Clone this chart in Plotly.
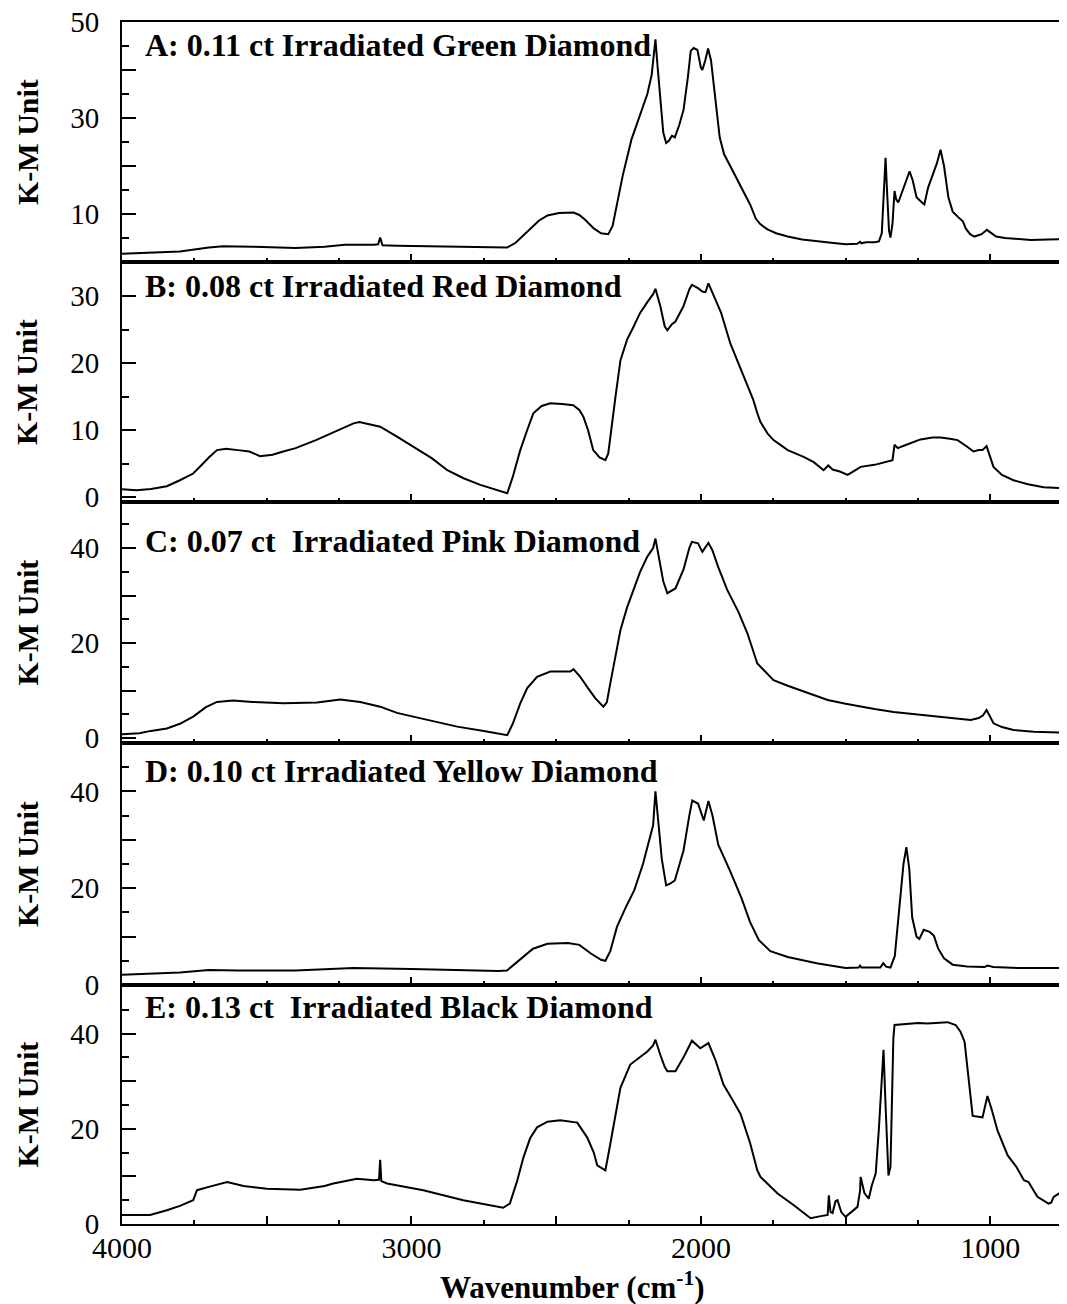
import plotly.graph_objects as go

# ---------------- data ----------------
wn_A = [4000, 3900, 3800, 3700, 3650, 3550, 3400, 3300, 3230, 3130, 3115, 3108, 3100, 3050, 2900, 2760, 2670,
        2640, 2600, 2560, 2530, 2490, 2440, 2420, 2400, 2370, 2345, 2320, 2305, 2290, 2270, 2240, 2210, 2185,
        2170, 2162, 2157, 2150, 2140, 2130, 2120, 2110, 2100, 2090, 2075, 2060, 2045, 2035, 2025, 2012, 2000,
        1995, 1985, 1975, 1965, 1950, 1935, 1920, 1890, 1860, 1830, 1810, 1795, 1770, 1740, 1700, 1650, 1550,
        1500, 1460, 1450, 1445, 1430, 1400, 1385, 1375, 1368, 1362, 1357, 1350, 1345, 1338, 1331, 1325, 1318,
        1305, 1290, 1279, 1268, 1255, 1240, 1228, 1215, 1200, 1185, 1172, 1160, 1145, 1130, 1110, 1095, 1085,
        1070, 1055, 1030, 1012, 1000, 980, 950, 900, 860, 800, 742]
km_A = [1.7, 1.9, 2.2, 3.0, 3.3, 3.2, 2.9, 3.2, 3.6, 3.6, 3.7, 5.1, 3.5, 3.4, 3.2, 3.0, 3.0,
        4.0, 6.3, 8.6, 9.7, 10.2, 10.3, 9.8, 8.8, 7.0, 6.0, 5.8, 7.5, 12.0, 18.0, 25.5, 30.5, 35.0,
        39.0, 43.0, 46.4, 41.0, 33.0, 27.0, 24.8, 25.3, 26.3, 26.0, 28.5, 31.7, 38.5, 44.0, 44.6, 44.2, 40.5,
        40.0, 42.0, 44.5, 42.0, 34.0, 26.0, 22.5, 19.0, 15.8, 12.0, 9.0, 7.9, 6.8, 6.0, 5.3, 4.7, 4.0,
        3.7, 3.8, 4.2, 3.9, 4.1, 4.1, 4.3, 6.0, 15.0, 21.7, 15.0, 6.5, 5.1, 8.0, 14.8, 13.0, 12.4,
        14.5, 17.0, 18.9, 17.0, 13.5, 12.6, 12.0, 15.5, 18.0, 20.5, 23.4, 20.0, 13.5, 10.5, 9.3, 8.5, 7.0,
        5.8, 5.3, 5.8, 6.7, 6.2, 5.3, 5.0, 4.7, 4.6, 4.7, 4.8]

wn_B = [4000, 3950, 3900, 3845, 3800, 3754, 3720, 3700, 3672, 3640, 3600, 3560, 3523, 3480, 3443, 3400, 3330,
        3260, 3200, 3180, 3130, 3108, 3050, 2994, 2930, 2876, 2820, 2762, 2700, 2669, 2650, 2624, 2600, 2579,
        2550, 2520, 2480, 2441, 2420, 2406, 2390, 2372, 2350, 2330, 2320, 2313, 2295, 2278, 2255, 2233, 2210,
        2185, 2165, 2157, 2140, 2125, 2116, 2100, 2088, 2060, 2040, 2031, 2010, 1995, 1984, 1974, 1960, 1930,
        1898, 1860, 1830, 1819, 1805, 1794, 1770, 1749, 1700, 1645, 1610, 1576, 1560, 1545, 1520, 1493, 1470,
        1448, 1400, 1355, 1338, 1331, 1320, 1290, 1241, 1200, 1172, 1140, 1113, 1080, 1058, 1040, 1027, 1013,
        1000, 989, 960, 920, 870, 816, 742]
km_B = [1.15, 1.0, 1.2, 1.6, 2.5, 3.5, 5.0, 5.9, 7.0, 7.2, 7.0, 6.8, 6.1, 6.3, 6.8, 7.3, 8.5,
        9.8, 11.0, 11.2, 10.7, 10.5, 9.0, 7.5, 5.8, 4.0, 2.8, 1.8, 1.0, 0.55, 3.0, 7.0, 10.0, 12.5,
        13.6, 14.0, 13.9, 13.7, 13.0, 12.0, 10.0, 7.0, 5.9, 5.5, 6.5, 9.0, 15.0, 20.4, 23.5, 25.4, 27.5,
        29.1, 30.3, 31.1, 28.5, 25.5, 24.9, 25.8, 26.2, 28.5, 31.0, 31.7, 31.2, 30.7, 30.6, 31.9, 30.5, 27.5,
        22.9, 19.0, 15.8, 14.5, 12.5, 11.2, 9.5, 8.5, 7.0, 6.0, 5.2, 4.0, 4.7, 4.1, 3.8, 3.3, 3.9,
        4.5, 4.8, 5.3, 5.5, 7.8, 7.3, 7.8, 8.6, 8.9, 8.9, 8.7, 8.5, 7.5, 6.8, 7.0, 7.0, 7.6,
        6.0, 4.5, 3.3, 2.5, 1.9, 1.45, 1.3]

wn_C = [4000, 3940, 3900, 3845, 3800, 3754, 3710, 3672, 3616, 3550, 3443, 3326, 3246, 3177, 3108, 3050, 2994,
        2900, 2842, 2750, 2669, 2650, 2624, 2600, 2566, 2520, 2451, 2440, 2430, 2417, 2390, 2365, 2337, 2325,
        2313, 2295, 2278, 2255, 2233, 2210, 2185, 2165, 2157, 2145, 2130, 2116, 2100, 2088, 2060, 2040, 2031,
        2010, 1995, 1974, 1960, 1940, 1909, 1870, 1839, 1820, 1805, 1794, 1770, 1749, 1700, 1645, 1600, 1562,
        1500, 1448, 1400, 1334, 1270, 1218, 1150, 1068, 1040, 1025, 1013, 1000, 989, 960, 920, 850, 757, 742]
km_C = [0.8, 1.0, 1.5, 2.0, 3.0, 4.5, 6.5, 7.6, 7.9, 7.6, 7.3, 7.5, 8.1, 7.6, 6.6, 5.3, 4.5,
        3.2, 2.4, 1.5, 0.6, 3.0, 7.3, 10.5, 12.9, 14.0, 14.0, 14.5, 13.8, 12.9, 10.5, 8.4, 6.6, 7.5,
        11.5, 17.0, 22.7, 27.5, 31.2, 35.0, 38.2, 40.0, 42.0, 38.0, 33.0, 30.5, 31.0, 31.5, 35.5, 40.0, 41.3,
        41.0, 39.2, 41.1, 39.5, 36.0, 31.2, 26.5, 22.0, 18.5, 15.7, 15.0, 13.5, 12.2, 11.0, 9.8, 8.8, 8.0,
        7.2, 6.6, 6.1, 5.5, 5.1, 4.8, 4.4, 3.8, 4.2, 4.8, 5.9, 4.5, 3.1, 2.3, 1.7, 1.3, 1.1, 1.1]

wn_D = [4000, 3900, 3800, 3700, 3600, 3400, 3200, 3000, 2800, 2700, 2670, 2630, 2580, 2530, 2460, 2420, 2380,
        2345, 2330, 2313, 2290, 2260, 2230, 2200, 2175, 2165, 2157, 2150, 2135, 2120, 2105, 2090, 2075, 2060,
        2040, 2030, 2010, 2000, 1990, 1974, 1960, 1940, 1900, 1860, 1830, 1800, 1760, 1700, 1600, 1500, 1455,
        1450, 1445, 1380, 1370, 1360, 1345, 1330, 1315, 1300, 1290, 1280, 1270, 1255, 1245, 1230, 1210, 1195,
        1180, 1160, 1130, 1080, 1020, 1010, 990, 900, 742]
km_D = [2.1, 2.3, 2.6, 3.1, 3.0, 3.0, 3.5, 3.3, 3.0, 2.9, 3.0, 5.0, 7.5, 8.5, 8.7, 8.3, 6.5,
        5.2, 5.0, 7.0, 12.0, 16.0, 19.6, 25.0, 30.7, 33.0, 40.0, 36.0, 26.0, 20.6, 21.0, 21.6, 24.5, 27.8,
        35.0, 38.1, 37.5, 35.7, 34.0, 38.0, 35.0, 29.0, 23.7, 18.0, 13.0, 9.3, 7.0, 5.8, 4.5, 3.5, 3.6,
        4.0, 3.6, 3.6, 4.5, 3.8, 3.6, 6.0, 15.0, 25.0, 28.5, 24.0, 14.0, 10.0, 9.5, 11.4, 11.0, 10.2,
        7.5, 5.5, 4.2, 3.8, 3.7, 4.0, 3.7, 3.5, 3.5]

wn_E = [4000, 3903, 3845, 3800, 3754, 3741, 3700, 3637, 3580, 3499, 3384, 3300, 3270, 3188, 3130, 3112, 3108,
        3104, 3084, 2959, 2821, 2683, 2660, 2635, 2613, 2590, 2566, 2530, 2486, 2427, 2393, 2370, 2358, 2330,
        2313, 2295, 2278, 2244, 2185, 2165, 2157, 2140, 2125, 2116, 2088, 2060, 2031, 2002, 1974, 1950, 1922,
        1890, 1863, 1830, 1805, 1794, 1760, 1735, 1680, 1621, 1590, 1562, 1558, 1552, 1545, 1535, 1528, 1515,
        1500, 1459, 1450, 1448, 1435, 1420, 1410, 1396, 1385, 1375, 1369, 1362, 1352, 1345, 1340, 1335, 1331,
        1300, 1250, 1218, 1180, 1148, 1120, 1103, 1089, 1075, 1061, 1027, 1010, 995, 975, 940, 910, 884,
        868, 850, 837, 799, 790, 781, 760, 742]
km_E = [1.9, 1.9, 2.9, 3.8, 5.0, 7.1, 7.8, 8.8, 8.0, 7.4, 7.2, 8.0, 8.5, 9.5, 9.2, 9.3, 13.5,
        9.0, 8.5, 7.1, 5.0, 3.4, 4.3, 9.0, 14.0, 18.0, 20.3, 21.5, 21.8, 21.3, 18.2, 15.0, 12.3, 11.25,
        16.8, 23.0, 28.6, 33.5, 36.25, 37.5, 38.7, 35.5, 33.0, 32.1, 32.1, 35.0, 38.5, 36.9, 38.0, 34.5, 29.3,
        26.0, 23.1, 17.0, 11.25, 9.9, 8.0, 6.4, 4.0, 1.2, 1.6, 1.9, 6.0, 2.5, 2.3, 4.8, 5.0, 2.5,
        1.5, 3.6, 7.0, 9.9, 6.5, 5.3, 8.0, 10.6, 20.0, 32.0, 36.6, 25.0, 10.2, 12.0, 25.0, 39.0, 41.8,
        42.0, 42.2, 42.1, 42.3, 42.4, 41.8, 40.4, 38.3, 30.0, 22.7, 22.4, 26.9, 24.0, 19.6, 14.4, 12.0, 9.2,
        8.8, 7.0, 5.7, 4.3, 4.5, 5.7, 6.5, 6.7]

panel_titles = ["A: 0.11 ct Irradiated Green Diamond",
                "B: 0.08 ct Irradiated Red Diamond",
                "C: 0.07 ct  Irradiated Pink Diamond",
                "D: 0.10 ct Irradiated Yellow Diamond",
                "E: 0.13 ct  Irradiated Black Diamond"]
y_title = "K-M Unit"
x_title = "Wavenumber (cm<sup>-1</sup>)"

x_tickvals = [4000, 3500, 3000, 2500, 2000, 1500, 1000]
x_ticktext = ["4000", "", "3000", "", "2000", "", "1000"]

y_tickvals = [[10, 20, 30, 40, 50], [0, 10, 20, 30], [0, 10, 20, 30, 40], [0, 10, 20, 30, 40], [0, 10, 20, 30, 40]]
y_ticktext = [["10", "", "30", "", "50"], ["0", "10", "20", "30"], ["0", "", "20", "", "40"],
              ["0", "", "20", "", "40"], ["0", "", "20", "", "40"]]
y_ranges = [[0, 50.02], [-0.75, 35.1], [-1.05, 49.7], [0, 50], [0, 50.2]]

# ---------------- layout geometry (page pixels; the page body adds an 8px offset) ----------------
OFF = 8
W, H = 1067 - OFF, 1304 - OFF
PL, PR, PT, PB = 122, 1065, 22, 1224          # plot area in page pixels
ml, mt = PL - OFF, PT - OFF
mr = W - (PR - OFF)
mb = H - (PB - OFF)
bounds_px = [22, 262, 502, 743, 985, 1224]
label_y_px = [45, 286, 541, 771, 1007]


def py(ypx):
    return (PB - ypx) / (PB - PT)


def px(xpx):
    return (xpx - PL) / (PR - PL)


FONT = "Liberation Serif, Times New Roman, serif"

fig = go.Figure()
series = [(wn_A, km_A), (wn_B, km_B), (wn_C, km_C), (wn_D, km_D), (wn_E, km_E)]
layout = {}
annotations = []
for i, (wn, km) in enumerate(series):
    n = "" if i == 0 else str(i + 1)
    fig.add_trace(go.Scatter(x=wn, y=km, mode="lines", line=dict(color="black", width=2),
                             xaxis="x" + n, yaxis="y" + n, showlegend=False, hoverinfo="skip"))
    dom = [py(bounds_px[i + 1]), py(bounds_px[i])]
    layout["xaxis" + n] = dict(
        domain=[0, 1], anchor="y" + n, range=[4000, 742],
        tickmode="array", tickvals=x_tickvals, ticktext=x_ticktext,
        showticklabels=(i == 4), ticks="inside", ticklen=8, tickwidth=2, tickcolor="black",
        minor=dict(tickmode="linear", tick0=0, dtick=250, ticks="inside", ticklen=4, tickwidth=1.5,
                   tickcolor="black"),
        showline=True, linecolor="black", linewidth=2, mirror=True,
        showgrid=False, zeroline=False, ticklabeloverflow="allow",
        tickfont=dict(family=FONT, size=30, color="black"), ticklabelstandoff=-4,
    )
    layout["yaxis" + n] = dict(
        domain=dom, anchor="x" + n, range=y_ranges[i],
        tickmode="array", tickvals=y_tickvals[i], ticktext=y_ticktext[i],
        ticks="inside", ticklen=14, tickwidth=2, tickcolor="black",
        minor=dict(tickmode="linear", tick0=0, dtick=5, ticks="inside", ticklen=7, tickwidth=1.5,
                   tickcolor="black"),
        showline=True, linecolor="black", linewidth=2, mirror=True,
        showgrid=False, zeroline=False, ticklabeloverflow="allow",
        tickfont=dict(family=FONT, size=29, color="black"), ticklabelstandoff=15,
    )
    annotations.append(dict(text="<b>" + panel_titles[i] + "</b>", xref="paper", yref="paper",
                            x=px(143), y=py(label_y_px[i]), xanchor="left", yanchor="middle",
                            showarrow=False, font=dict(family=FONT, size=32, color="black")))
    annotations.append(dict(text="<b>" + y_title + "</b>", xref="paper", yref="paper",
                            x=px(27), y=(dom[0] + dom[1]) / 2, xanchor="center", yanchor="middle",
                            textangle=-90, showarrow=False, font=dict(family=FONT, size=30, color="black")))

annotations.append(dict(text="<b>" + x_title + "</b>", xref="paper", yref="paper",
                        x=px(572), y=py(1285), xanchor="center", yanchor="middle",
                        showarrow=False, font=dict(family=FONT, size=31, color="black")))

fig.update_layout(**layout)
fig.update_layout(width=W, height=H, margin=dict(l=ml, r=mr, t=mt, b=mb, autoexpand=False),
                  paper_bgcolor="white", plot_bgcolor="white", annotations=annotations,
                  font=dict(family=FONT, color="black"))
fig.write_html("out.html")
